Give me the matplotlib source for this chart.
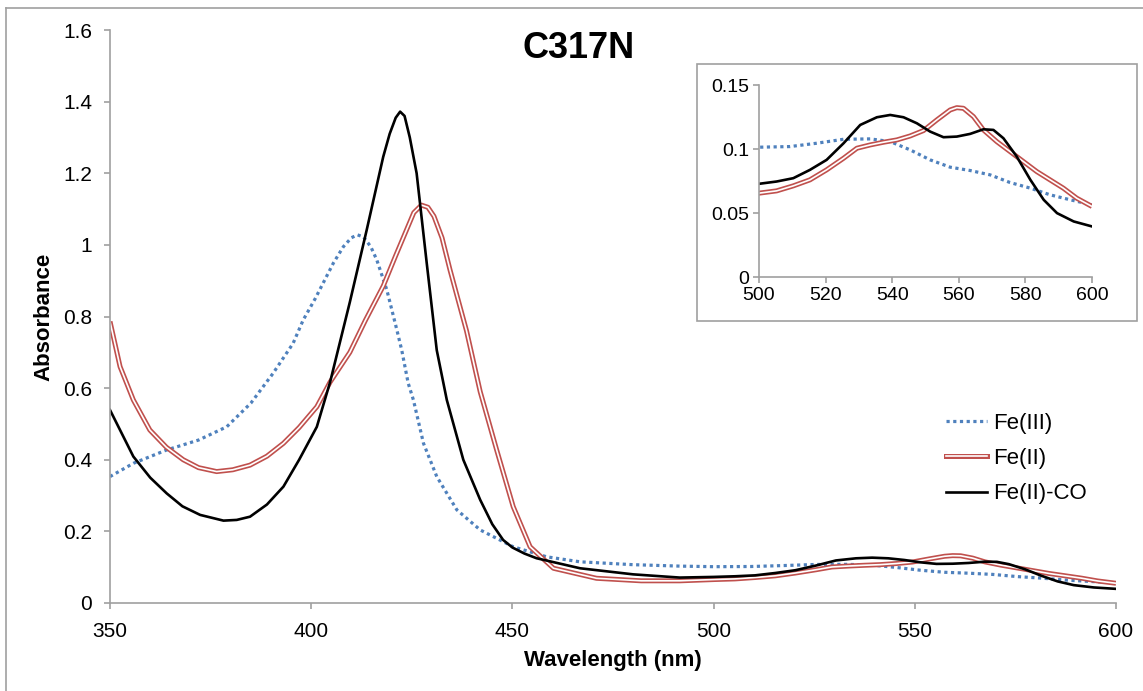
import matplotlib
matplotlib.use("Agg")
import matplotlib.pyplot as plt
import numpy as np
from matplotlib.lines import Line2D
from matplotlib.patches import Rectangle
from matplotlib.ticker import FormatStrFormatter

plt.rcParams['font.family'] = ['Liberation Sans', 'DejaVu Sans']

# Fe(III) spectrum
fe3_x = [350, 355.8, 364, 372, 379, 385, 390.5, 395.5, 398, 401, 405.5, 408, 410, 411.5,
         413, 414.8, 416.3, 418.8, 421.3, 422.5, 424.1, 425.4, 427.9, 431.2, 436.2, 442,
         450.2, 458.5, 466.8, 480, 491.6, 500, 509.3, 517.3, 525.4, 533.4, 539.4, 545.4,
         551.4, 557.4, 563.4, 569.4, 575.4, 581.5, 587.4, 593.5, 600]
fe3_y = [0.353, 0.39, 0.427, 0.455, 0.492, 0.558, 0.641, 0.725, 0.79, 0.85, 0.949, 0.995,
         1.02, 1.028, 1.022, 0.995, 0.958, 0.874, 0.762, 0.706, 0.614, 0.567, 0.446, 0.353,
         0.26, 0.204, 0.157, 0.129, 0.115, 0.107, 0.103, 0.1014, 0.1019, 0.1045, 0.1076,
         0.1079, 0.1058, 0.0993, 0.0915, 0.0858, 0.0832, 0.0798, 0.0738, 0.0694, 0.0642,
         0.0603, 0.0564]

# Fe(II) spectrum
fe2_x = [350, 352.5, 355.8, 359.9, 364, 368.2, 372, 376.5, 380.5, 384.8, 389, 393.1, 397,
         401.4, 404.7, 409.6, 413.5, 417.9, 421, 424, 425.5, 427.4, 429, 430.5, 432.5,
         434.5, 438.6, 442, 446.1, 450.2, 454.4, 460.2, 470.9, 482, 491.6, 500, 505.3,
         510.3, 515.3, 520.3, 525.4, 529.4, 533.4, 537.4, 541.4, 545.4, 549.4, 553.4,
         557.4, 559.4, 561.4, 564.4, 567.4, 571.4, 575.4, 579.4, 583.4, 587.4, 591.4,
         595.4, 600]
fe2_y = [0.786, 0.66, 0.567, 0.483, 0.435, 0.40, 0.378, 0.367, 0.372, 0.385, 0.41, 0.446,
         0.49, 0.548, 0.617, 0.70, 0.79, 0.885, 0.97, 1.05, 1.09, 1.111, 1.105, 1.08, 1.02,
         0.93, 0.76, 0.59, 0.427, 0.269, 0.157, 0.097, 0.069, 0.062, 0.062, 0.0655, 0.0673,
         0.0712, 0.0759, 0.0837, 0.0928, 0.1006, 0.1032, 0.1053, 0.1071, 0.1102, 0.1144,
         0.1227, 0.1305, 0.1323, 0.1318, 0.1253, 0.1149, 0.1058, 0.098, 0.0902, 0.0824,
         0.0759, 0.0694, 0.0616, 0.0551]

# Fe(II)-CO spectrum
co_x = [350, 355.8, 360, 364.1, 368, 372.4, 378.2, 381.5, 384.8, 389, 393.1, 397, 401.4,
        404.7, 409.6, 413.8, 417.9, 419.5, 421, 422.1, 423.2, 424.5, 426.2, 428.7, 431.2,
        433.7, 437.8, 442, 445, 447.7, 450, 453, 456, 466.8, 480, 491.6, 500, 505.3, 510.3,
        515.3, 520.3, 525.4, 530.4, 535.4, 539.4, 543.4, 547.4, 551.4, 555.4, 559.4, 563.4,
        567.4, 570.4, 573.4, 577.4, 581.5, 585.5, 589.5, 594.5, 600]
co_y = [0.539, 0.409, 0.35, 0.306, 0.27, 0.246, 0.23, 0.232, 0.241, 0.275, 0.325, 0.40,
        0.492, 0.617, 0.84, 1.042, 1.246, 1.31, 1.355, 1.372, 1.36, 1.30, 1.20, 0.95, 0.706,
        0.567, 0.40, 0.288, 0.22, 0.176, 0.155, 0.138, 0.125, 0.097, 0.08, 0.071, 0.0728,
        0.0746, 0.0772, 0.0837, 0.0915, 0.1045, 0.1188, 0.1248, 0.1266, 0.1248, 0.1201,
        0.1136, 0.1092, 0.1097, 0.1118, 0.1154, 0.1149, 0.1084, 0.0941, 0.0759, 0.0603,
        0.0499, 0.0434, 0.0395]

labels = ["Fe(III)", "Fe(II)", "Fe(II)-CO"]

BLUE = "#4f81bd"
RED = "#c0504d"
GRAY = "#a0a0a0"
W, H = 1143, 691


def style_axes(ax, size, xpad, ypad):
    for s in ["top", "right"]:
        ax.spines[s].set_visible(False)
    for s in ["left", "bottom"]:
        ax.spines[s].set_color(GRAY)
        ax.spines[s].set_linewidth(1.2)
    ax.tick_params(direction="out", color=GRAY, length=4, width=1.2, labelsize=size)
    ax.tick_params(axis="x", pad=xpad)
    ax.tick_params(axis="y", pad=ypad)


def draw_series(ax):
    ax.plot(fe3_x, fe3_y, color=BLUE, lw=2.3, dashes=(1, 1.1), dash_capstyle="butt")
    ax.plot(fe2_x, fe2_y, color=RED, lw=3.6, solid_capstyle="butt")
    ax.plot(fe2_x, fe2_y, color="white", lw=1.2, solid_capstyle="butt")
    ax.plot(co_x, co_y, color="black", lw=1.9)


fig = plt.figure(figsize=(W / 100, H / 100), dpi=100)

# outer frame (left and top edges only visible)
fig.add_artist(Line2D([6 / W, 6 / W], [0, 1 - 8 / H], color=GRAY, lw=1.2,
                      transform=fig.transFigure))
fig.add_artist(Line2D([6 / W, 1], [1 - 8 / H, 1 - 8 / H], color=GRAY, lw=1.2,
                      transform=fig.transFigure))

ax = fig.add_axes([110 / W, 1 - 603 / H, 1006 / W, 573 / H])
draw_series(ax)
ax.set_xlim(350, 600)
ax.set_ylim(0, 1.6)
ax.set_xticks([350, 400, 450, 500, 550, 600])
ax.set_yticks(np.arange(0, 1.61, 0.2))
ax.yaxis.set_major_formatter(FormatStrFormatter("%g"))
style_axes(ax, 15, 10, 9)
ax.set_xlabel("Wavelength (nm)", fontsize=16, fontweight="bold", labelpad=6)
ax.set_ylabel("Absorbance", fontsize=16, fontweight="bold", labelpad=6)

fig.text(579 / W, 1 - 49 / H, "C317N", fontsize=26, fontweight="bold",
         ha="center", va="center")

h_blue = Line2D([], [], color=BLUE, lw=2.3, dashes=(1, 1.1), dash_capstyle="butt")
h_red = (Line2D([], [], color=RED, lw=3.6), Line2D([], [], color="white", lw=1.2))
h_black = Line2D([], [], color="black", lw=1.9)
ax.legend([h_blue, h_red, h_black], labels, loc="upper left",
          bbox_to_anchor=(946 / W, 1 - 413 / H), bbox_transform=fig.transFigure,
          frameon=False, fontsize=16, handlelength=1.85, handletextpad=0.25,
          labelspacing=0.64, borderpad=0, borderaxespad=0)

# inset frame
fig.add_artist(Rectangle((697 / W, 1 - 321 / H), 440 / W, 257 / H, fill=False,
                         edgecolor=GRAY, lw=1.2, transform=fig.transFigure))

axi = fig.add_axes([759 / W, 1 - 277 / H, 333 / W, 192 / H])
draw_series(axi)
axi.set_xlim(500, 600)
axi.set_ylim(0, 0.15)
axi.set_xticks([500, 520, 540, 560, 580, 600])
axi.set_yticks([0, 0.05, 0.1, 0.15])
axi.yaxis.set_major_formatter(FormatStrFormatter("%g"))
style_axes(axi, 14, 3, 3)
axi.patch.set_alpha(0)

fig.savefig("out.png", dpi=100)
